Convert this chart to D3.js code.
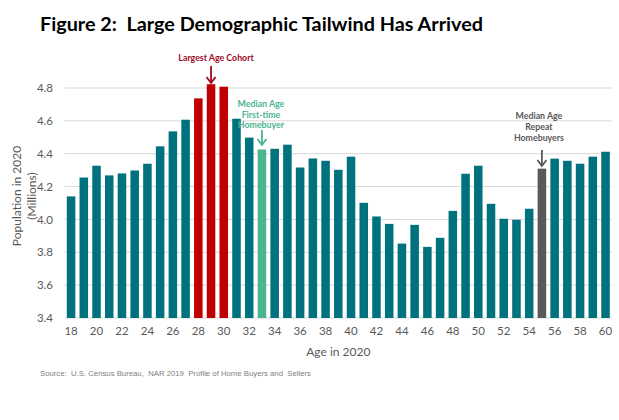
<!DOCTYPE html>
<html>
<head>
<meta charset="utf-8">
<script src="https://cdn.jsdelivr.net/npm/d3@7"></script>
<style>
  html, body { margin: 0; padding: 0; background: #fff; }
  svg { display: block; }
  text { white-space: pre; }
</style>
</head>
<body>
<svg id="chart" width="619" height="420"></svg>
<script>
// ---- data ----
const ages = d3.range(18, 61);
const population = [
  4.14, 4.255, 4.327, 4.268, 4.28, 4.298, 4.339, 4.445, 4.536, 4.607,
  4.737, 4.823, 4.808, 4.613, 4.498, 4.426, 4.43, 4.455, 4.316, 4.371,
  4.357, 4.302, 4.382, 4.101, 4.018, 3.973, 3.853, 3.967, 3.833, 3.888,
  4.052, 4.278, 4.327, 4.095, 4.004, 3.998, 4.065, 4.309, 4.37, 4.357,
  4.339, 4.382, 4.412
];
const largestCohortAges = [28, 29, 30];
const medianFirstTimeAge = 33;
const medianRepeatAge = 55;
const yTicks = [3.4, 3.6, 3.8, 4.0, 4.2, 4.4, 4.6, 4.8];
const xTickLabels = d3.range(18, 61, 2);

const titleText = "Figure 2:  Large Demographic Tailwind Has Arrived";
const yTitleLines = ["Population in 2020", "(Millions)"];
const xTitle = "Age in 2020";
const sourceText = "Source:  U.S. Census Bureau,  NAR 2019  Profile of Home Buyers and  Sellers";
const annLargest = ["Largest Age Cohort"];
const annFirst = ["Median Age", "First-time", "Homebuyer"];
const annRepeat = ["Median Age", "Repeat", "Homebuyers"];

// ---- styles ----
const TEAL = "#00727d";
const RED = "#c00000";
const GREEN = "#4bb491";
const GRAY = "#595959";
const DARKRED = "#9e0b1f";
const FONT = "Lato, 'Open Sans', sans-serif";

const svg = d3.select("#chart");

const x = d3.scaleBand().domain(ages).range([64.7, 611.9]).paddingInner(0.33).paddingOuter(0.165);
const y = d3.scaleLinear().domain([3.4, 4.8]).range([318, 88]);

// title
svg.append("text")
  .attr("x", 40).attr("y", 31)
  .attr("font-family", FONT).attr("font-weight", 700).attr("font-size", 18)
  .attr("fill", "#000")
  .attr("textLength", 443).attr("lengthAdjust", "spacingAndGlyphs")
  .text(titleText);

// gridlines
svg.append("g").selectAll("line").data(yTicks).join("line")
  .attr("x1", 64.7).attr("x2", 611.9)
  .attr("y1", d => y(d)).attr("y2", d => y(d))
  .attr("stroke", "#d9d9d9").attr("stroke-width", 1);

// y axis labels
const yAxis = svg.append("g").attr("transform", "translate(56,0)")
  .call(d3.axisLeft(y).tickValues(yTicks).tickFormat(d3.format(".1f")).tickSize(0).tickPadding(3));
yAxis.select(".domain").remove();
yAxis.selectAll("text").attr("font-family", FONT).attr("font-size", 11.5).attr("fill", GRAY);

// bars
function barColor(age) {
  if (largestCohortAges.includes(age)) return RED;
  if (age === medianFirstTimeAge) return GREEN;
  if (age === medianRepeatAge) return GRAY;
  return TEAL;
}
svg.append("g").selectAll("rect").data(ages.map((a, i) => ({age: a, v: population[i]}))).join("rect")
  .attr("x", d => x(d.age))
  .attr("width", x.bandwidth())
  .attr("y", d => y(d.v))
  .attr("height", d => y(3.4) - y(d.v))
  .attr("fill", d => barColor(d.age));

// x axis labels
const xAxis = svg.append("g").attr("transform", "translate(0,318)")
  .call(d3.axisBottom(x).tickValues(xTickLabels).tickSize(0).tickPadding(9));
xAxis.select(".domain").remove();
xAxis.selectAll("text").attr("font-family", FONT).attr("font-size", 11.5).attr("fill", GRAY);

// axis titles
svg.append("text")
  .attr("x", (64.7 + 611.9) / 2).attr("y", 356)
  .attr("text-anchor", "middle")
  .attr("font-family", FONT).attr("font-size", 12).attr("fill", GRAY)
  .text(xTitle);

yTitleLines.forEach((t, i) => {
  svg.append("text")
    .attr("transform", `translate(${21 + i * 15},196) rotate(-90)`)
    .attr("text-anchor", "middle")
    .attr("font-family", FONT).attr("font-size", 12).attr("fill", GRAY)
    .text(t);
});

// source
svg.append("text")
  .attr("x", 40).attr("y", 376)
  .attr("font-family", "'Liberation Sans', Arial, sans-serif").attr("font-size", 7.2).attr("fill", "#808080")
  .attr("textLength", 271).attr("lengthAdjust", "spacingAndGlyphs")
  .text(sourceText);

// annotations
function arrow(cx, y1, y2, color) {
  const g = svg.append("g");
  g.append("line").attr("x1", cx).attr("x2", cx).attr("y1", y1).attr("y2", y2 - 1)
    .attr("stroke", color).attr("stroke-width", 1.8);
  g.append("path")
    .attr("d", `M${cx - 4.5},${y2 - 6} L${cx},${y2} L${cx + 4.5},${y2 - 6}`)
    .attr("fill", "none").attr("stroke", color).attr("stroke-width", 1.8);
}
function annText(lines, cx, y0, lh, color) {
  lines.forEach((t, i) => {
    svg.append("text")
      .attr("x", cx).attr("y", y0 + i * lh)
      .attr("text-anchor", "middle")
      .attr("font-family", FONT).attr("font-weight", 700).attr("font-size", 8.8)
      .attr("fill", color)
      .text(t);
  });
}
const cx29 = x(29) + x.bandwidth() / 2;
annText(annLargest, cx29 + 5, 61, 11, DARKRED);
arrow(cx29, 66, 83, DARKRED);

const cx33 = x(medianFirstTimeAge) + x.bandwidth() / 2;
annText(annFirst, cx33 - 1, 107, 10.7, GREEN);
arrow(cx33, 130, 145, GREEN);

const cx55 = x(medianRepeatAge) + x.bandwidth() / 2;
annText(annRepeat, cx55 - 3, 119, 11.2, GRAY);
arrow(cx55, 150, 166, GRAY);
</script>
</body>
</html>
